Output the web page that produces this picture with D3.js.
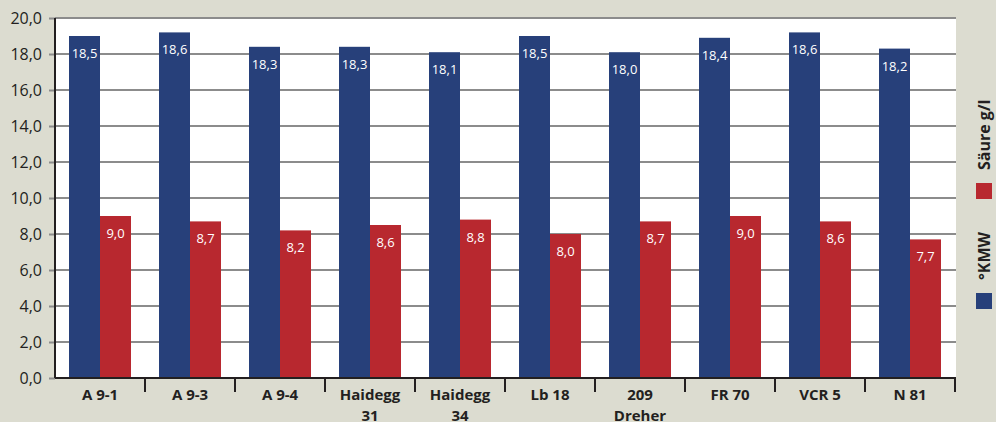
<!DOCTYPE html>
<html>
<head>
<meta charset="utf-8">
<script src="https://cdn.jsdelivr.net/npm/d3@7"></script>
<style>
  body { margin: 0; background: #dcdcd0; }
  svg { display: block; font-family: "Open Sans", sans-serif; }
</style>
</head>
<body>
<svg id="chart" width="996" height="422"></svg>
<script>
// sorts on the x axis (multi-line labels split on "|")
const sorts = ["A 9-1", "A 9-3", "A 9-4", "Haidegg|31", "Haidegg|34", "Lb 18", "209|Dreher", "FR 70", "VCR 5", "N 81"];
// bar heights as drawn in the picture, and the printed value labels
const kmwBars = [19.0, 19.2, 18.4, 18.4, 18.1, 19.0, 18.1, 18.9, 19.2, 18.3];
const kmwLabels = ["18,5", "18,6", "18,3", "18,3", "18,1", "18,5", "18,0", "18,4", "18,6", "18,2"];
const saeureBars = [9.0, 8.7, 8.2, 8.5, 8.8, 8.0, 8.7, 9.0, 8.7, 7.7];
const saeureLabels = ["9,0", "8,7", "8,2", "8,6", "8,8", "8,0", "8,7", "9,0", "8,6", "7,7"];
const yTicks = [0, 2, 4, 6, 8, 10, 12, 14, 16, 18, 20];
const seriesNames = ["°KMW", "Säure g/l"];

const blue = "#27407a";
const red = "#b8282f";
const gridColor = "#8c8c8c";
const textColor = "#231f20";

const margin = {top: 18, left: 55, right: 41, bottom: 44};
const width = 996 - margin.left - margin.right;
const height = 422 - margin.top - margin.bottom;

const svg = d3.select("#chart");
const g = svg.append("g")
    .attr("transform", "translate(" + margin.left + "," + margin.top + ")");

const locale = d3.formatLocale({decimal: ",", thousands: ".", grouping: [3], currency: ["", "€"]});
const fmt = locale.format(".1f");

const x = d3.scaleBand().domain(sorts).range([0, width]).padding(0);
const x1 = d3.scaleBand().domain(["kmw", "saeure"]).range([14, x.bandwidth() - 14]);
const y = d3.scaleLinear().domain([0, 20]).range([height, 0]);

// white plot area
g.append("rect")
    .attr("width", width + 1)
    .attr("height", height)
    .attr("fill", "#fff");

// grid lines
g.selectAll(".grid")
    .data(yTicks.filter(d => d > 0))
    .enter()
    .append("line")
    .attr("x1", 0)
    .attr("x2", width + 1)
    .attr("y1", d => y(d))
    .attr("y2", d => y(d))
    .attr("stroke", gridColor)
    .attr("stroke-width", 2);

// y axis
const yAxis = g.append("g")
    .call(d3.axisLeft(y).tickValues(yTicks).tickFormat(fmt).tickSize(6).tickPadding(7));
yAxis.select(".domain").remove();
yAxis.selectAll(".tick line").attr("stroke", gridColor).attr("stroke-width", 2);
yAxis.selectAll(".tick text")
    .attr("fill", textColor)
    .style("font-size", "16px")
    .style("font-family", "'Open Sans', sans-serif");

// bars
const groups = g.selectAll(".sort")
    .data(sorts)
    .enter()
    .append("g")
    .attr("transform", d => "translate(" + x(d) + ",0)");

groups.append("rect")
    .attr("x", x1("kmw"))
    .attr("width", x1.bandwidth())
    .attr("y", (d, i) => y(kmwBars[i]))
    .attr("height", (d, i) => height - y(kmwBars[i]))
    .attr("fill", blue);

groups.append("rect")
    .attr("x", x1("saeure"))
    .attr("width", x1.bandwidth())
    .attr("y", (d, i) => y(saeureBars[i]))
    .attr("height", (d, i) => height - y(saeureBars[i]))
    .attr("fill", red);

// value labels inside the bars
groups.append("text")
    .attr("x", x1("kmw") + x1.bandwidth() / 2)
    .attr("y", (d, i) => y(kmwBars[i]) + 22)
    .attr("text-anchor", "middle")
    .attr("fill", "#fff")
    .style("font-size", "13px")
    .text((d, i) => kmwLabels[i]);

groups.append("text")
    .attr("x", x1("saeure") + x1.bandwidth() / 2)
    .attr("y", (d, i) => y(saeureBars[i]) + 22)
    .attr("text-anchor", "middle")
    .attr("fill", "#fff")
    .style("font-size", "13px")
    .text((d, i) => saeureLabels[i]);

// left axis line and bottom axis
g.append("line")
    .attr("x1", 0).attr("x2", 0)
    .attr("y1", 0).attr("y2", height)
    .attr("stroke", textColor)
    .attr("stroke-width", 2);

g.append("line")
    .attr("x1", 0).attr("x2", width + 1)
    .attr("y1", height).attr("y2", height)
    .attr("stroke", textColor)
    .attr("stroke-width", 2);

g.selectAll(".xtick")
    .data(sorts)
    .enter()
    .append("line")
    .attr("x1", d => x(d) + x.bandwidth())
    .attr("x2", d => x(d) + x.bandwidth())
    .attr("y1", height)
    .attr("y2", height + 14)
    .attr("stroke", textColor)
    .attr("stroke-width", 2);

const xLabels = g.selectAll(".xlabel")
    .data(sorts)
    .enter()
    .append("text")
    .attr("text-anchor", "middle")
    .attr("fill", textColor)
    .style("font-size", "15px")
    .style("font-weight", "bold")
    .attr("transform", d => "translate(" + (x(d) + x.bandwidth() / 2) + "," + (height + 22) + ")");

xLabels.selectAll("tspan")
    .data(d => d.split("|"))
    .enter()
    .append("tspan")
    .attr("x", 0)
    .attr("dy", (d, i) => i === 0 ? 0 : 21)
    .text(d => d);

// legend on the right, rotated
const legend = svg.append("g");
const legendY = [309, 199];
const legendColors = [blue, red];

seriesNames.forEach((name, i) => {
    legend.append("rect")
        .attr("x", 976)
        .attr("y", legendY[i] - 16)
        .attr("width", 16)
        .attr("height", 16)
        .attr("fill", legendColors[i]);
    legend.append("text")
        .attr("transform", "translate(990," + (legendY[i] - 29) + ") rotate(-90)")
        .attr("fill", textColor)
        .style("font-size", "16px")
        .style("font-weight", "bold")
        .text(name);
});
</script>
</body>
</html>
